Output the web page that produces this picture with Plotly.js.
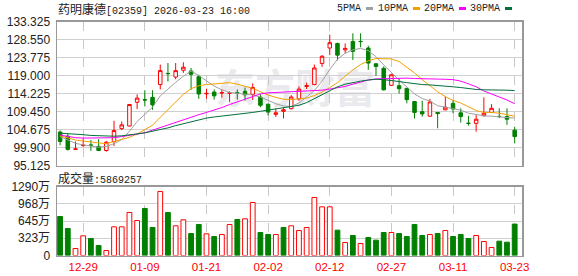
<!DOCTYPE html>
<html>
<head>
<meta charset="utf-8">
<script src="https://cdn.plot.ly/plotly-3.0.1.min.js"></script>
<style>html,body{margin:0;padding:0;background:#fff;}#chart{width:578px;height:276px;}</style>
</head>
<body>
<div id="chart"></div>
<script>
// ---- data ----
const dates = ["12-22","12-23","12-24","12-29","12-30","12-31","01-02","01-05","01-06","01-07",
  "01-08","01-09","01-12","01-13","01-14","01-15","01-16","01-19","01-20","01-21",
  "01-22","01-23","01-26","01-27","01-28","01-29","01-30","02-02","02-03","02-04",
  "02-05","02-06","02-09","02-10","02-11","02-12","02-13","02-16","02-20","02-23",
  "02-24","02-25","02-26","02-27","03-02","03-03","03-04","03-05","03-06","03-09",
  "03-10","03-11","03-12","03-13","03-16","03-17","03-18","03-19","03-20","03-23"];
const openP = [104.0,102.9,99.4,100.4,100.55,100.2,99.1,101.5,104.9,105.6,
  111.9,112.6,113.2,116.6,119.55,118.6,120.4,120.2,118.7,114.15,
  114.6,114.35,114.3,114.45,114.8,114.0,113.3,111.4,108.7,109.5,
  110.2,112.8,116.1,116.6,122.2,126.3,127.5,125.8,128.0,128.05,
  126.3,122.1,120.9,116.4,116.3,115.6,112.1,109.4,108.2,109.2,
  109.9,111.6,109.1,106.35,106.3,108.3,109.2,108.15,108.1,104.5];
const highP = [104.4,103.5,101.5,102.3,101.9,102.1,101.6,107.0,106.8,111.4,
  114.0,115.1,115.1,121.9,122.3,122.3,122.5,121.0,119.2,115.5,
  115.3,115.3,114.8,115.3,115.8,116.9,114.0,111.5,110.2,110.4,
  113.8,116.1,117.1,121.9,124.4,129.8,127.7,127.5,130.2,130.2,
  126.9,122.3,121.4,119.5,118.3,115.7,112.2,112.3,112.8,109.3,
  113.4,112.5,110.3,108.3,108.5,113.2,111.4,110.3,110.3,105.4];
const lowP = [100.5,99.1,99.3,100.1,99.0,99.0,98.8,100.3,104.5,105.5,
  110.1,110.8,109.9,115.3,117.4,118.0,119.7,115.2,112.8,112.85,
  112.6,113.1,112.0,112.6,112.3,112.5,110.6,108.4,108.0,107.6,
  110.0,112.3,115.4,116.4,121.3,124.4,123.0,124.9,123.1,126.5,
  120.5,118.9,115.0,116.2,114.2,111.6,107.6,108.1,108.1,105.0,
  109.8,109.0,106.5,105.7,104.1,108.3,109.2,107.7,105.9,101.0];
const closeP = [101.5,99.4,99.5,100.5,100.5,99.1,101.3,104.4,105.9,111.3,
  113.0,112.5,111.2,120.3,119.5,120.3,121.2,119.3,114.1,114.25,
  113.6,114.45,114.4,114.4,113.9,115.8,111.1,109.3,109.1,109.9,
  113.3,115.4,116.3,121.0,124.1,127.7,124.4,126.2,125.4,128.0,
  122.3,121.4,115.2,119.2,115.5,112.6,109.2,108.8,112.0,108.9,
  110.6,110.1,108.1,106.3,107.4,109.0,110.3,108.1,107.4,102.8];
const ma5 = [102.8,101.8,101.0,100.6,100.3,100.0,100.2,100.9,102.0,104.2,
  106.8,108.8,110.6,113.6,115.5,117.2,118.8,120.2,119.0,117.7,
  116.2,115.2,114.5,114.3,114.0,113.8,113.3,112.3,111.5,110.9,
  110.8,111.7,113.3,115.0,117.5,120.6,123.3,124.9,125.8,126.2,
  125.6,124.0,121.8,119.7,117.8,116.0,114.1,112.9,112.2,111.0,
  110.6,110.4,109.8,109.0,108.6,108.3,108.2,108.0,107.9,107.7];
const ma10 = [103.0,102.4,101.9,101.6,101.3,101.0,100.9,101.5,102.0,102.6,
  103.5,104.6,105.8,107.9,109.9,112.0,114.0,115.5,116.3,116.6,
  116.7,116.9,117.1,116.7,116.1,115.6,114.7,113.8,113.2,112.7,
  112.6,112.8,113.0,113.7,114.6,115.8,117.1,118.8,120.5,121.9,
  122.9,123.5,123.5,123.4,122.7,121.3,119.7,117.9,116.3,114.7,
  113.4,112.4,111.7,110.6,109.7,109.2,109.2,109.0,108.7,108.2];
const ma20 = [103.2,102.8,102.5,102.4,102.4,102.4,102.4,102.5,102.8,103.2,
  103.4,103.8,104.5,105.2,106.0,106.7,107.4,108.0,108.6,109.2,
  109.8,110.5,111.3,112.0,112.8,113.5,114.1,114.4,114.5,114.5,
  114.6,114.7,114.9,114.9,115.1,115.4,115.7,116.1,116.7,117.3,
  117.8,118.1,118.2,118.3,118.4,118.3,118.2,118.2,118.2,118.2,
  118.0,117.9,117.5,116.8,116.0,114.9,114.2,113.3,112.5,111.5];
const ma30 = [103.7,103.6,103.5,103.3,103.1,103.0,102.9,102.9,103.0,103.2,
  103.5,103.8,104.2,104.6,105.1,105.7,106.2,106.7,107.3,107.7,
  108.0,108.2,108.4,108.6,108.9,109.2,109.5,109.8,110.1,110.4,
  110.7,111.1,111.8,112.8,113.9,115.0,116.0,116.7,117.2,117.5,
  117.8,118.0,117.9,117.7,117.4,117.1,116.8,116.6,116.5,116.4,
  116.3,116.0,115.8,115.5,115.3,115.2,115.2,115.1,115.1,115.0];
const volume = [7290000,5050000,1310000,3680000,3180000,1870000,930000,5360000,5360000,8040000,
  6540000,8790000,5240000,11970000,8040000,5550000,6670000,4110000,5800000,4050000,
  3550000,3930000,5800000,6730000,6860000,9910000,4300000,3930000,3930000,5240000,
  5550000,4680000,5240000,10850000,9100000,9100000,4740000,2430000,3740000,2240000,
  3370000,2870000,4300000,4300000,4110000,3550000,5800000,3740000,3930000,4110000,
  4680000,3550000,3930000,3180000,3740000,2620000,1500000,2680000,2490000,5869257];
// 1 = up (red hollow), 0 = down (green)
const volDir = [0,0,1,1,0,0,1,1,1,1, 1,0,0,1,0,1,1,0,0,1, 0,1,1,0,1,1,0,0,1,0,
  1,1,1,1,1,1,0,1,0,1, 0,0,0,1,0,0,0,0,1,0, 1,0,0,0,1,1,1,0,0,0];
const tickDates = ["12-29","01-09","01-21","02-02","02-12","02-27","03-11","03-23"];
const priceTicks = [95.125,99.900,104.675,109.450,114.225,119.000,123.775,128.550,133.325];
const priceTickText = ["95.125","99.900","104.675","109.450","114.225","119.000","123.775","128.550","133.325"];
const volTicks = [0,3225000,6450000,9675000,12900000];
const volTickText = ["0","323万","645万","968万","1290万"];
const stockName = "药明康德";
const stockCode = "[02359]";
const stamp = "2026-03-23 16:00";
const maNames = ["5PMA","10PMA","20PMA","30PMA"];

// ---- style ----
const RED = "#ff0000", GREEN = "#008000";
const maColors = ["#a0a0a0","#f2a100","#ff00ff","#00703c"];
const W = 578, H = 276;
const px = v => v / W, py = v => 1 - v / H;
const xDom = [px(57), px(522)];

const traces = [];
traces.push({
  type: "candlestick", x: dates, open: openP, high: highP, low: lowP, close: closeP,
  xaxis: "x", yaxis: "y", whiskerwidth: 0,
  increasing: {line: {color: RED, width: 1}, fillcolor: "#ffffff"},
  decreasing: {line: {color: GREEN, width: 1}, fillcolor: GREEN},
  hoverinfo: "skip", showlegend: false
});
[ma5, ma10, ma20, ma30].forEach((m, k) => {
  traces.push({type: "scatter", mode: "lines", x: dates, y: m, xaxis: "x", yaxis: "y",
    line: {color: maColors[k], width: 1}, hoverinfo: "skip", showlegend: false});
});
traces.push({
  type: "bar", x: dates, y: volume, xaxis: "x2", yaxis: "y2", width: 0.62,
  marker: {color: volDir.map(d => d ? "#ffffff" : GREEN),
           line: {color: volDir.map(d => d ? RED : GREEN), width: 1}},
  hoverinfo: "skip", showlegend: false
});

const gridC = "#d0d0d0", borderC = "#999999";
const annotations = [
  {xref: "paper", yref: "paper", x: px(56), y: py(8.5), xanchor: "left", yanchor: "middle", showarrow: false,
   text: '<span style="font-family:Noto Sans CJK SC;font-size:12px">' + stockName + '</span>' + stockCode + ' ' + stamp,
   font: {family: "Liberation Mono, Noto Sans CJK SC", size: 10, color: "#222"}},
  {xref: "paper", yref: "paper", x: px(56), y: py(177.5), xanchor: "left", yanchor: "middle", showarrow: false,
   text: '<span style="font-family:Noto Sans CJK SC;font-size:12px">成交量</span>:' + volume[volume.length - 1],
   font: {family: "Liberation Mono, Noto Sans CJK SC", size: 10, color: "#222"}}
];
const legendEnds = [363, 410, 456, 502];
const shapes = [];
maNames.forEach((n, k) => {
  annotations.push({xref: "paper", yref: "paper", x: px(legendEnds[k]), y: py(8.5), xanchor: "right", yanchor: "middle",
    showarrow: false, text: n, font: {family: "Liberation Mono", size: 10, color: "#222"}});
  shapes.push({type: "line", xref: "paper", yref: "paper", x0: px(legendEnds[k] + 3), x1: px(legendEnds[k] + 10),
    y0: py(8.5), y1: py(8.5), line: {color: maColors[k], width: 3}});
});
shapes.push({type: "rect", xref: "paper", yref: "paper", x0: px(205), x1: px(385), y0: py(112), y1: py(72),
  layer: "below", line: {width: 0}, fillcolor: "rgba(0,0,0,0)",
  label: {text: "<b>东方财富</b>", textposition: "middle center",
          font: {family: "Noto Sans CJK SC", size: 40, color: "#e9e9ee"}}});

const layout = {
  width: W, height: H, margin: {l: 0, r: 0, t: 0, b: 0},
  paper_bgcolor: "#ffffff", plot_bgcolor: "#ffffff",
  showlegend: false, hovermode: false, boxgap: 0.35,
  xaxis: {domain: xDom, anchor: "y", type: "category", range: [-0.4, 59.95],
    rangeslider: {visible: false}, showticklabels: false, ticks: "",
    tickvals: tickDates, showgrid: true, gridcolor: "#c8c8c8", griddash: "dash", gridwidth: 1,
    showline: true, mirror: true, linecolor: borderC, linewidth: 1.5, zeroline: false, fixedrange: true},
  yaxis: {domain: [py(165.5), py(21.5)], anchor: "x", range: [95.125, 133.325],
    tickvals: priceTicks, ticktext: priceTickText, ticks: "", ticklabelstandoff: 3,
    tickfont: {family: "Liberation Sans, Arial", size: 12, color: "#222"},
    showgrid: true, gridcolor: gridC, gridwidth: 1, zeroline: false,
    showline: true, mirror: true, linecolor: borderC, linewidth: 1.5, fixedrange: true},
  xaxis2: {domain: xDom, anchor: "y2", type: "category", matches: "x",
    tickvals: tickDates, ticktext: tickDates, ticks: "",
    tickfont: {family: "Liberation Sans, Arial", size: 11.5, color: RED},
    showgrid: true, gridcolor: "#c8c8c8", griddash: "dash", gridwidth: 1,
    showline: true, mirror: true, linecolor: borderC, linewidth: 1.5, zeroline: false, fixedrange: true},
  yaxis2: {domain: [py(255.5), py(186.5)], anchor: "x2", range: [0, 12900000],
    tickvals: volTicks, ticktext: volTickText, ticks: "", ticklabelstandoff: 3,
    tickfont: {family: "Liberation Sans, Noto Sans CJK SC", size: 12, color: "#222"},
    showgrid: true, gridcolor: gridC, gridwidth: 1, zeroline: false,
    showline: true, mirror: true, linecolor: borderC, linewidth: 1.5, fixedrange: true},
  annotations: annotations, shapes: shapes
};
Plotly.newPlot("chart", traces, layout, {staticPlot: true, displayModeBar: false});
</script>
</body>
</html>
